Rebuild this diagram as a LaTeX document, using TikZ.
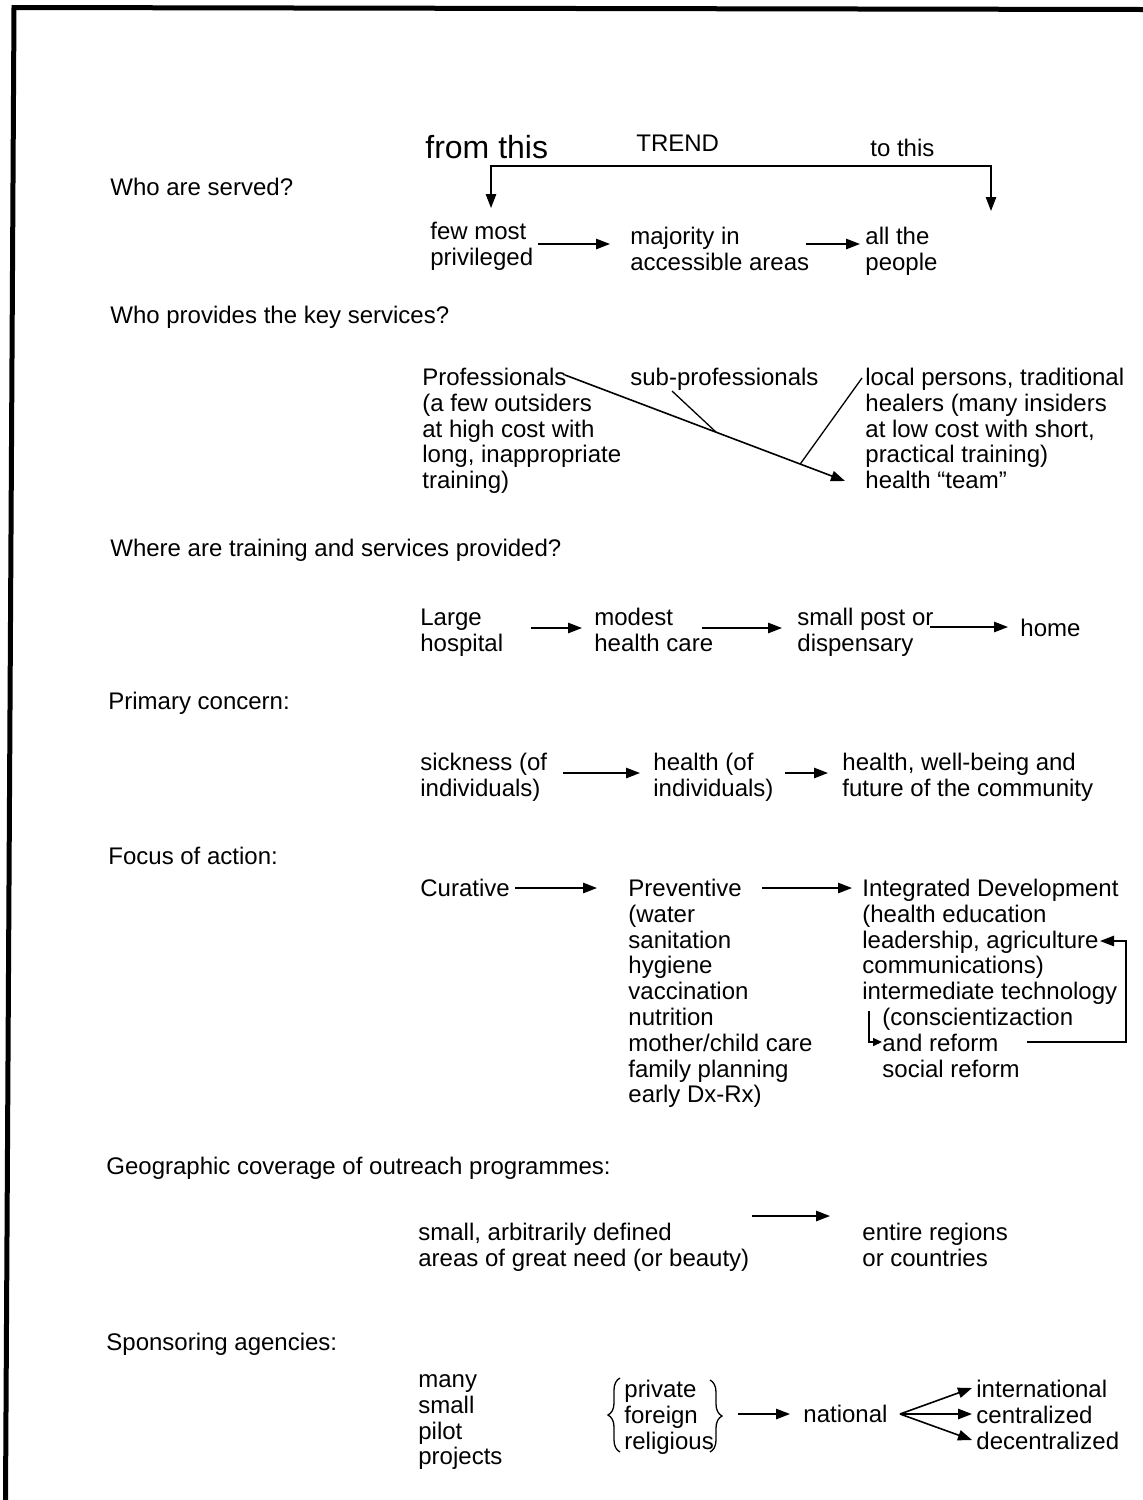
\documentclass[tikz,border=0pt]{standalone}
\usepackage{fontspec}
\setmainfont{Liberation Sans}
\usetikzlibrary{arrows.meta,calc,decorations.pathreplacing}
\begin{document}
\begin{tikzpicture}[x=0.5pt,y=-0.5pt,
  txt/.style={anchor=north west,inner sep=0pt,align=left,font=\fontsize{12}{12.9}\selectfont},
  arr/.style={line width=0.8pt,-{Triangle[length=7pt,width=5.2pt]}},
  barr/.style={line width=0.8pt,{Triangle[length=7pt,width=5.2pt]}-{Triangle[length=7pt,width=5.2pt]}},
  sarr/.style={line width=0.8pt,-{Triangle[length=4.5pt,width=4pt]}},
  thinline/.style={line width=0.65pt},
  brc/.style={line width=0.65pt,decorate,decoration={brace,amplitude=6pt}},
  frame/.style={line width=2.5pt,line cap=rect}]
\useasboundingbox (0,0) rectangle (1142,1500);
% frame
\draw[frame] (1142,9.5) -- (14,7.5) -- (5.5,1500);

% questions
\node[txt] (q1) at (110,177) {\strut Who are served?};
\node[txt] (q2) at (110,305) {\strut Who provides the key services?};
\node[txt] (q3) at (110,538) {\strut Where are training and services provided?};
\node[txt] (q4) at (108,691) {\strut Primary concern:};
\node[txt] (q5) at (108,846) {\strut Focus of action:};
\node[txt] (q6) at (106,1156) {\strut Geographic coverage of outreach programmes:};
\node[txt] (q7) at (106,1332) {\strut Sponsoring agencies:};

% header
\node[txt,font=\fontsize{16}{18}\selectfont] (from) at (425,133) {\strut from this};
\node[txt] (trend) at (636,133) {\strut TREND};
\node[txt] (to) at (870,138) {\strut to this};

% row 1
\node[txt] (few) at (430,221) {\strut few most\\privileged};
\node[txt] (maj) at (630,226) {\strut majority in\\accessible areas};
\node[txt] (all) at (865,226) {\strut all the\\people};
\draw[barr] ($(few.north west)+(61,-13)$) -- ($(few.north west)+(61,-55)$)
  -- ($(all.north west)+(126,-60)$) -- ($(all.north west)+(126,-15)$);
\draw[arr] ($(few.north west)+(108,23)$) -- ($(maj.north west)+(-20,18)$);
\draw[arr] ($(maj.north west)+(176,18)$) -- ($(all.north west)+(-5,18)$);

% row 2
\node[txt] (prof) at (422,367) {\strut Professionals\\(a few outsiders\\at high cost with\\long, inappropriate\\training)};
\node[txt] (sub) at (630,367) {\strut sub-professionals};
\node[txt] (local) at (865,367) {\strut local persons, traditional\\healers (many insiders\\at low cost with short,\\practical training)\\health “team”};
\draw[arr] ($(prof.north west)+(143,8)$) -- coordinate[pos=0.54] (m1) coordinate[pos=0.84] (m2) ($(local.north west)+(-20,114)$);
\draw[thinline] ($(sub.north west)+(42,24)$) -- (m1);
\draw[thinline] ($(local.north west)+(-3,11)$) -- (m2);

% row 3
\node[txt] (large) at (420,607) {\strut Large\\hospital};
\node[txt] (mod) at (594,607) {\strut modest\\health care};
\node[txt] (small) at (797,607) {\strut small post or\\dispensary};
\node[txt] (home) at (1020,618) {\strut home};
\draw[arr] ($(large.north west)+(111,21)$) -- ($(mod.north west)+(-12,21)$);
\draw[arr] ($(mod.north west)+(108,21)$) -- ($(small.north west)+(-15,21)$);
\draw[arr] ($(small.north west)+(133,20)$) -- ($(home.north west)+(-12,9)$);

% row 4
\node[txt] (sick) at (420,752) {\strut sickness (of\\individuals)};
\node[txt] (hl) at (653,752) {\strut health (of\\individuals)};
\node[txt] (hw) at (842,752) {\strut health, well-being and\\future of the community};
\draw[arr] ($(sick.north west)+(143,21)$) -- ($(hl.north west)+(-13,21)$);
\draw[arr] ($(hl.north west)+(132,21)$) -- ($(hw.north west)+(-14,21)$);

% row 5
\node[txt] (cur) at (420,878) {\strut Curative};
\node[txt] (prev) at (628,878) {\strut Preventive\\(water\\sanitation\\hygiene\\vaccination\\nutrition\\mother/child care\\family planning\\early Dx-Rx)};
\node[txt] (integ) at (862,878) {\strut Integrated Development\\(health education\\leadership, agriculture\\communications)\\intermediate technology};
\node[txt] (integ2) at (882,1007) {\strut (conscientizaction\\and reform\\social reform};
\draw[arr] ($(cur.north west)+(95,10)$) -- ($(prev.north west)+(-31,10)$);
\draw[arr] ($(prev.north west)+(134,10)$) -- ($(integ.north west)+(-10,10)$);
\draw[arr] ($(integ2.north west)+(145,35)$) -- ($(integ.north west)+(264,164)$)
  -- ($(integ.north west)+(264,63)$) -- ($(integ.north west)+(238,63)$);
\draw[sarr] ($(integ2.north west)+(-13,4)$) -- ($(integ2.north west)+(-13,35)$) -- ($(integ2.north west)+(0,35)$);

% row 6
\node[txt] (area) at (418,1222) {\strut small, arbitrarily defined\\areas of great need (or beauty)};
\node[txt] (entire) at (862,1222) {\strut entire regions\\or countries};
\draw[arr] ($(area.north west)+(334,-6)$) -- ($(entire.north west)+(-32,-6)$);

% row 7
\node[txt] (many) at (418,1369) {\strut many\\small\\pilot\\projects};
\node[txt] (pfr) at (624,1379) {\strut private\\foreign\\religious};
\node[txt] (nat) at (803,1404) {\strut national};
\node[txt] (intl) at (976,1379) {\strut international\\centralized\\decentralized};
\draw[brc] ($(pfr.north west)+(-4,73)$) -- ($(pfr.north west)+(-4,-1)$);
\draw[brc] ($(pfr.north west)+(86,1)$) -- ($(pfr.north west)+(86,73)$);
\draw[arr] ($(pfr.north west)+(114,35)$) -- ($(nat.north west)+(-13,10)$);
\draw[arr] ($(nat.north west)+(97,10)$) -- ($(intl.north west)+(-4,9)$);
\draw[arr] ($(nat.north west)+(97,10)$) -- ($(intl.north west)+(-4,35)$);
\draw[arr] ($(nat.north west)+(97,10)$) -- ($(intl.north west)+(-4,61)$);
\end{tikzpicture}
\end{document}
